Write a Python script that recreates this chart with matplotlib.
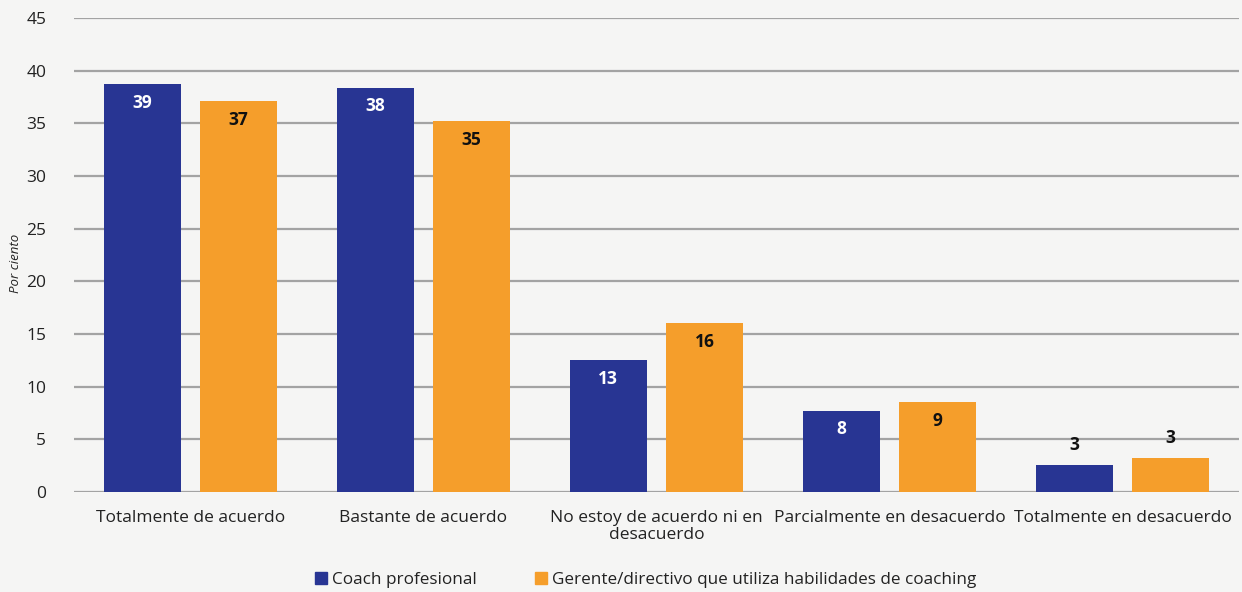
import matplotlib.pyplot as plt
import numpy as np
from matplotlib.patches import Patch

plt.rcParams['font.family'] = ['Open Sans', 'DejaVu Sans']

# --- DATA ---
categories = ["Totalmente de acuerdo", "Bastante de acuerdo",
              "No estoy de acuerdo ni en\ndesacuerdo",
              "Parcialmente en desacuerdo", "Totalmente en desacuerdo"]
coach = [38.7, 38.4, 12.5, 7.7, 2.6]
gerente = [37.1, 35.2, 16.0, 8.5, 3.2]
coach_labels = ["39", "38", "13", "8", "3"]
gerente_labels = ["37", "35", "16", "9", "3"]
series_names = ["Coach profesional", "Gerente/directivo que utiliza habilidades de coaching"]

blue = '#283593'
orange = '#f59e2b'
bg = '#f5f5f4'

fig = plt.figure(figsize=(12.42, 5.92), dpi=100, facecolor=bg)
ax = fig.add_axes([74/1242, 1 - 492/592, 1165/1242, 474/592], facecolor=bg)

x = np.arange(len(categories))
w = 0.33
off = 0.207
b1 = ax.bar(x - off, coach, width=w, color=blue, zorder=2)
b2 = ax.bar(x + off, gerente, width=w, color=orange, zorder=2)

# value labels: inside near top, above the bar when it is too short
for bars, labs, inner in [(b1, coach_labels, 'white'), (b2, gerente_labels, '#111111')]:
    for bar, lab in zip(bars, labs):
        h = bar.get_height()
        cx = bar.get_x() + bar.get_width() / 2
        if h > 5:
            ax.text(cx, h - 1.75, lab, ha='center', va='center', color=inner,
                    fontsize=12.5, fontweight='bold', zorder=3)
        else:
            ax.text(cx, h + 1.9, lab, ha='center', va='center', color='#111111',
                    fontsize=12.5, fontweight='bold', zorder=3)

ax.set_xlim(-0.5, len(categories) - 0.5)
ax.set_ylim(0, 45)
ax.set_yticks(np.arange(0, 46, 5))
ax.yaxis.grid(True, color='#a3a3a3', linewidth=1.6, zorder=0)
ax.set_axisbelow(True)
for s in ax.spines.values():
    s.set_visible(False)
ax.tick_params(axis='both', length=0, labelsize=12.5, colors='#222222')
ax.tick_params(axis='y', pad=20)
ax.tick_params(axis='x', pad=13)
ax.set_xticks(x)
ax.set_xticklabels(categories, linespacing=1.1)
ax.set_ylabel("Por ciento", fontsize=9.5, style='italic', color='#222222', labelpad=10)
ax.yaxis.set_label_coords(-52/1165, 0.483)

handles = [Patch(color=blue), Patch(color=orange)]
fig.legend(handles, series_names, loc='center', bbox_to_anchor=(0.52, 1 - 580/592),
           ncol=2, frameon=False, fontsize=12.3, handlelength=0.7, handleheight=0.7,
           handletextpad=0.3, columnspacing=3.4, labelcolor='#222222')

plt.savefig("out.png", dpi=100, facecolor=bg)
